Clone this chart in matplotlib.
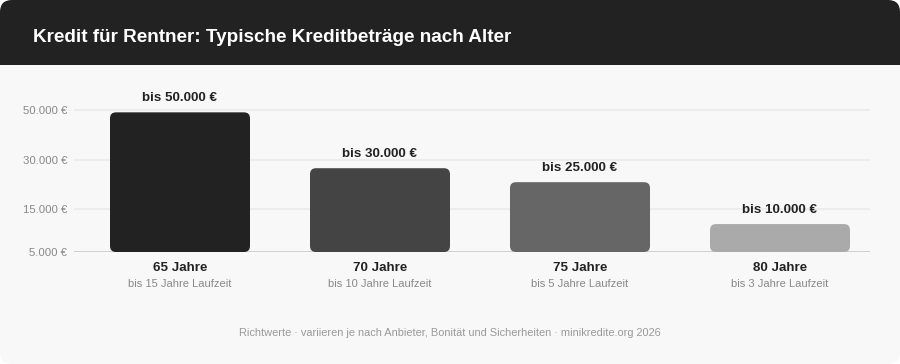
import matplotlib
matplotlib.use("Agg")
import matplotlib.pyplot as plt
from matplotlib.patches import FancyBboxPatch, Rectangle

plt.rcParams['font.family'] = ['Liberation Sans', 'DejaVu Sans']

# ---- data ----
title = "Kredit für Rentner: Typische Kreditbeträge nach Alter"
ages = ["65 Jahre", "70 Jahre", "75 Jahre", "80 Jahre"]
terms = ["bis 15 Jahre Laufzeit", "bis 10 Jahre Laufzeit", "bis 5 Jahre Laufzeit", "bis 3 Jahre Laufzeit"]
amounts = [50000, 30000, 25000, 10000]
value_labels = ["bis 50.000 €", "bis 30.000 €", "bis 25.000 €", "bis 10.000 €"]
bar_colors = ["#222222", "#444444", "#666666", "#aaaaaa"]
ytick_values = [50800, 32900, 15400, 0]
ytick_labels = ["50.000 €", "30.000 €", "15.000 €", "5.000 €"]
footer = "Richtwerte · variieren je nach Anbieter, Bonität und Sicherheiten · minikredite.org 2026"

W, H = 900, 364
fig = plt.figure(figsize=(W / 100, H / 100), dpi=100)
fig.patch.set_facecolor("white")

# background / card axes in pixel coordinates
bg = fig.add_axes([0, 0, 1, 1])
bg.set_xlim(0, W)
bg.set_ylim(H, 0)
bg.axis("off")
bg.add_patch(FancyBboxPatch((0, 0), W, H, boxstyle="round,pad=0,rounding_size=12",
                            fc="#f8f8f8", ec="none"))
bg.add_patch(FancyBboxPatch((0, 0), W, 65, boxstyle="round,pad=0,rounding_size=12",
                            fc="#222222", ec="none"))
bg.add_patch(Rectangle((0, 30), W, 35, fc="#222222", ec="none"))
bg.text(33, 38, title, color="white", fontsize=13.6, fontweight="bold",
        ha="left", va="center")
bg.text(450, 333, footer, color="#999999", fontsize=7.9, ha="center", va="center")

# main axes
ax_left, ax_right, ax_bottom, ax_top = 74, 870, 252, 90
ax = fig.add_axes([ax_left / W, (H - ax_bottom) / H, (ax_right - ax_left) / W,
                   (ax_bottom - ax_top) / H])
ax.set_facecolor("none")
ax.set_xlim(-0.53, 3.45)
ymax = 58000
ax.set_ylim(0, ymax)
for s in ax.spines.values():
    s.set_visible(False)
ax.set_xticks([])
ax.set_yticks(ytick_values)
ax.set_yticklabels(ytick_labels, color="#888888", fontsize=8.2)
ax.tick_params(axis="y", length=0, pad=5)
for v in ytick_values[:-1]:
    ax.axhline(v, color="#ececec", lw=1.5, zorder=0)
ax.axhline(0, color="#cccccc", lw=2, zorder=1)

# rounded bars
bw = 0.7
px_x = (ax_right - ax_left) / (3.45 + 0.53)  # px per x unit
px_y = (ax_bottom - ax_top) / ymax          # px per y unit
r_px = 6
aspect = (1 / px_y) / (1 / px_x)
for i, (v, c) in enumerate(zip(amounts, bar_colors)):
    ax.add_patch(FancyBboxPatch((i - bw / 2, 0), bw, v,
                                boxstyle=f"round,pad=0,rounding_size={r_px / px_x}",
                                mutation_aspect=aspect, fc=c, ec="none", zorder=2))
    ax.annotate(value_labels[i], (i, v), xytext=(0, 14), textcoords="offset pixels",
                ha="center", va="center", fontsize=9.6, fontweight="bold", color="#222222")
    ax.annotate(ages[i], (i, 0), xytext=(0, -16), textcoords="offset pixels",
                ha="center", va="center", fontsize=9.6, fontweight="bold", color="#222222",
                annotation_clip=False)
    ax.annotate(terms[i], (i, 0), xytext=(0, -32), textcoords="offset pixels",
                ha="center", va="center", fontsize=8.0, color="#888888",
                annotation_clip=False)

fig.savefig("out.png", dpi=100, facecolor="white")
